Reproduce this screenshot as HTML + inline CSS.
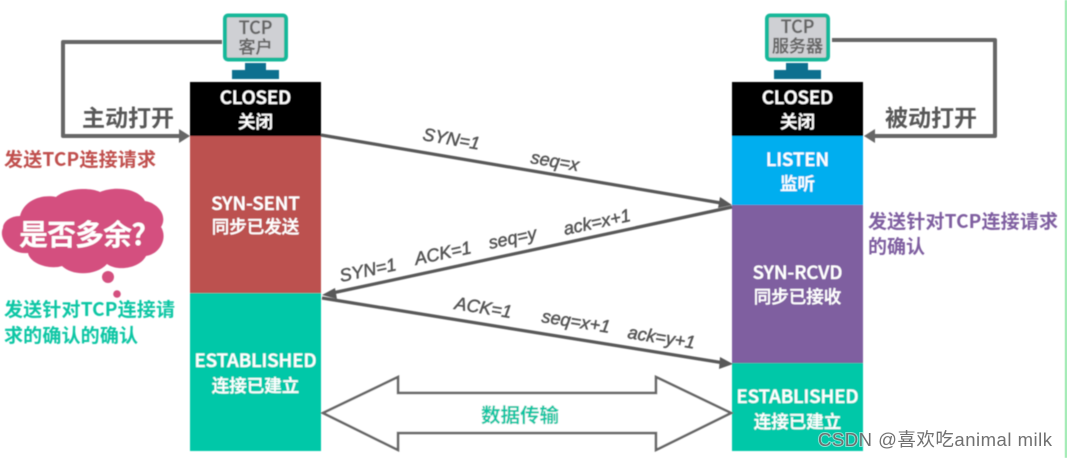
<!DOCTYPE html>
<html><head><meta charset="utf-8"><style>
html,body{margin:0;padding:0;background:#fff;width:1067px;height:458px;overflow:hidden}
svg{display:block}
text{font-family:"Liberation Sans","Noto Sans CJK SC",sans-serif}
.s{fill:#fff;font-weight:500;font-size:18.600px;text-anchor:middle;font-family:"Noto Sans CJK SC",sans-serif;stroke:#fff;stroke-width:.35}
.c{fill:#fff;font-weight:500;font-size:17.500px;text-anchor:middle;font-family:"Noto Sans CJK SC",sans-serif;stroke:#fff;stroke-width:.3}
.l{fill:#555;font-size:18px;font-style:italic;font-weight:normal;stroke:#555;stroke-width:.5}
.o{fill:#595959;font-weight:bold;font-size:23px;font-family:"Noto Sans CJK SC",sans-serif}
.n{font-weight:bold;font-size:19px;font-family:"Noto Sans CJK SC",sans-serif}
.m{fill:#666;font-weight:500;text-anchor:middle;font-family:"Noto Sans CJK SC",sans-serif;stroke:#666;stroke-width:.3}
</style></head><body>
<svg width="1067" height="458" viewBox="0 0 1067 458" xmlns="http://www.w3.org/2000/svg">
<defs><filter id="b" x="-2%" y="-2%" width="104%" height="104%"><feGaussianBlur stdDeviation="0.5"/></filter></defs>
<g filter="url(#b)">
<rect x="1065" y="0" width="2" height="458" fill="#8fe6a6"/>
<!-- columns -->
<rect x="190" y="82" width="131" height="54" fill="#000"/>
<rect x="190" y="136" width="131" height="157" fill="#bc5150"/>
<rect x="190" y="293" width="131" height="158" fill="#04c8a8"/>
<rect x="732" y="82" width="131" height="54" fill="#000"/>
<rect x="732" y="136" width="131" height="69" fill="#00aeef"/>
<rect x="732" y="205" width="131" height="158" fill="#7f5fa0"/>
<rect x="732" y="363" width="131" height="88" fill="#04c8a8"/>
<!-- monitors -->
<rect x="225" y="15.500" width="61" height="44" rx="3" fill="#cfd0d4" stroke="#12b89a" stroke-width="4"/>
<rect x="245" y="63" width="21" height="8" fill="#0f6f8f"/>
<rect x="232" y="70" width="47" height="9" fill="#0f6f8f"/>
<rect x="767" y="15.500" width="61" height="44" rx="3" fill="#cfd0d4" stroke="#12b89a" stroke-width="4"/>
<rect x="786" y="63" width="22" height="8" fill="#0f6f8f"/>
<rect x="774" y="70" width="47" height="9" fill="#0f6f8f"/>
<text class="m" x="255.500" y="34" font-size="18">TCP</text>
<text class="m" x="255.500" y="53" font-size="17">客户</text>
<text class="m" x="797.500" y="33" font-size="18">TCP</text>
<text class="m" x="797.500" y="52" font-size="17">服务器</text>
<!-- open arrows -->
<polyline points="222,42 63,42 63,136 182,136" fill="none" stroke="#666" stroke-width="4" stroke-linejoin="round"/>
<polygon points="190,136 179,129 179,143" fill="#666"/>
<polyline points="832,40 995,40 995,136 872,136" fill="none" stroke="#666" stroke-width="4" stroke-linejoin="round"/>
<polygon points="864,136 875,129 875,143" fill="#666"/>
<text class="o" x="82" y="126">主动打开</text>
<text class="o" x="885" y="126">被动打开</text>
<!-- state labels -->
<text class="s" x="255.500" y="104">CLOSED</text><text class="c" x="255.500" y="128">关闭</text>
<text class="s" x="255.500" y="210">SYN-SENT</text><text class="c" x="255.500" y="233">同步已发送</text>
<text class="s" x="255.500" y="367">ESTABLISHED</text><text class="c" x="255.500" y="392">连接已建立</text>
<text class="s" x="797.500" y="104">CLOSED</text><text class="c" x="797.500" y="128">关闭</text>
<text class="s" x="797.500" y="166">LISTEN</text><text class="c" x="797.500" y="190">监听</text>
<text class="s" x="797.500" y="279">SYN-RCVD</text><text class="c" x="797.500" y="303">同步已接收</text>
<text class="s" x="797.500" y="403">ESTABLISHED</text><text class="c" x="797.500" y="428">连接已建立</text>
<!-- side notes -->
<text class="n" x="4" y="166" fill="#c0504d" textLength="152">发送TCP连接请求</text>
<text class="n" x="4" y="316" fill="#0cc6a4" textLength="171">发送针对TCP连接请</text>
<text class="n" x="4" y="342" fill="#0cc6a4" textLength="134">求的确认的确认</text>
<text class="n" x="868" y="228" fill="#7f5fa0" textLength="190">发送针对TCP连接请求</text>
<text class="n" x="868" y="253" fill="#7f5fa0">的确认</text>
<!-- cloud -->
<path d="M20,216 C24,200 42,194 56,197 C66,188 90,187 100,192 C114,186 138,188 145,201 C158,203 168,216 161,227 C168,238 160,254 146,256 C140,268 118,272 107,264 C96,276 72,276 62,266 C50,270 30,264 28,253 C10,255 -2,238 3,228 C3,222 10,216 20,216 Z" fill="#d4507f"/>
<circle cx="108" cy="277" r="6" fill="#d4507f"/>
<circle cx="117" cy="294" r="3.800" fill="#d4507f"/>
<text x="19" y="245" font-size="29" font-weight="bold" fill="#fff" style='font-family:"Noto Sans CJK SC",sans-serif' textLength="127">是否多余?</text>
<!-- message lines -->
<line x1="321" y1="135" x2="724" y2="203.500" stroke="#595959" stroke-width="3.200"/>
<polygon points="732,205 720,197 718,208" fill="#595959"/>
<line x1="732" y1="207" x2="330" y2="293.500" stroke="#595959" stroke-width="3.200"/>
<polygon points="322,295 335,288 337,299" fill="#595959"/>
<line x1="322" y1="298" x2="724" y2="363" stroke="#595959" stroke-width="3.200"/>
<polygon points="733,364 720,357 719,369" fill="#595959"/>
<!-- message labels -->
<text class="l" transform="translate(422,140) rotate(9.700)">SYN=1</text>
<text class="l" transform="translate(530,163) rotate(9.700)">seq=x</text>
<text class="l" transform="translate(341,282) rotate(-12)">SYN=1</text>
<text class="l" transform="translate(416,265) rotate(-12)">ACK=1</text>
<text class="l" transform="translate(490,249) rotate(-12)">seq=y</text>
<text class="l" transform="translate(565,235) rotate(-12)">ack=x+1</text>
<text class="l" transform="translate(454,309) rotate(9.100)">ACK=1</text>
<text class="l" transform="translate(541,322) rotate(9.100)">seq=x+1</text>
<text class="l" transform="translate(627,338) rotate(9.100)">ack=y+1</text>
<!-- double arrow -->
<polygon points="323,413 398,377 398,393 656,393 656,377 731,413 656,450 656,433 398,433 398,450" fill="#fff" stroke="#666" stroke-width="2.500"/>
<text x="481" y="422" font-size="19.500" font-weight="bold" fill="#0cc6a4" style='font-family:"Noto Sans CJK SC",sans-serif'>数据传输</text>
</g>
<text x="818" y="446" font-size="18.500" fill="#fff" stroke="#fff" stroke-width="2" opacity=".5" textLength="234">CSDN @喜欢吃animal milk</text>
<text x="818" y="446" font-size="18.500" fill="#707070" textLength="234">CSDN @喜欢吃animal milk</text>
</svg>
</body></html>
